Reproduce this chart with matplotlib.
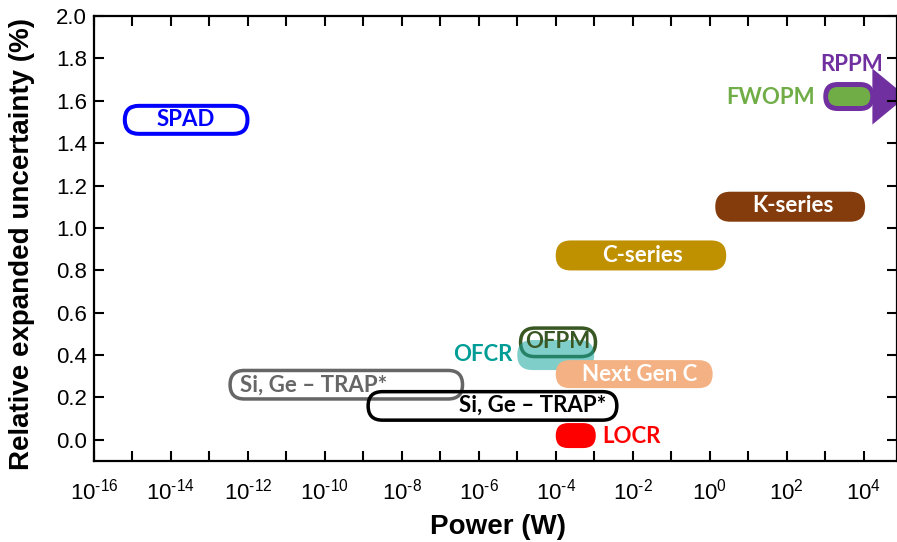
import numpy as np
import matplotlib
matplotlib.use('Agg')
import matplotlib.pyplot as plt
from matplotlib.patches import FancyBboxPatch, Polygon
from matplotlib.transforms import IdentityTransform

plt.rcParams['font.family'] = ['Liberation Sans', 'DejaVu Sans']
plt.rcParams['mathtext.fontset'] = 'custom'
plt.rcParams['mathtext.rm'] = 'Liberation Sans'
plt.rcParams['mathtext.it'] = 'Liberation Sans:italic'
plt.rcParams['mathtext.bf'] = 'Liberation Sans:bold'

# power range (W) and relative expanded uncertainty (%) of each technique
names = ['SPAD', 'Si, Ge – TRAP*', 'Si, Ge – TRAP*', 'OFPM', 'OFCR',
         'Next Gen C', 'LOCR', 'C-series', 'K-series', 'RPPM', 'FWOPM']
p_lo = [5.6e-16, 3.1e-13, 1.2e-9, 1.1e-5, 1.0e-5, 1.0e-4, 1.0e-4, 1.0e-4, 1.4, 9.0e2, 1.2e3]
p_hi = [1.1e-12, 4.2e-7, 4.3e-3, 1.2e-3, 1.0e-3, 1.2, 1.1e-3, 2.7, 1.1e4, 1.3e5, 1.5e4]
unc = [1.51, 0.26, 0.16, 0.46, 0.40, 0.31, 0.02, 0.87, 1.10, 1.62, 1.62]

x_exps = list(range(-16, 5))
y_ticks = np.arange(0, 2.01, 0.2)

# styles: (colour, kind, height px, border px, alpha)
styles = [
    ('#0000FF', 'outline', 32, 4, 1),
    ('#666666', 'outline', 32, 3.5, 1),
    ('#000000', 'outline', 32, 3.5, 1),
    ('#385723', 'outline', 32, 3.5, 1),
    ('#18A6A0', 'fill', 30, 0, 0.55),
    ('#F4B183', 'fill', 28, 0, 1),
    ('#FF0000', 'fill', 25, 0, 1),
    ('#BF9000', 'fill', 30, 0, 1),
    ('#843C0C', 'fill', 30, 0, 1),
    ('#7030A0', 'arrow', 29, 0, 1),
    ('#70AD47', 'fill', 19, 0, 1),
]
# label: (colour, where, dx px, dy px)
label_style = [
    ('#0000FF', 'center', 0, 0),
    ('#666666', 'left_in', 12, 0),
    ('#000000', 'right_in', -12, -1),
    ('#385723', 'center', 0, -1),
    ('#009C96', 'left_out', -5, -1),
    ('#FFFFFF', 'center', 5, 0),
    ('#FF0000', 'right_out', 6, 1),
    ('#FFFFFF', 'center', 2, 0),
    ('#FFFFFF', 'center', 3, -1),
    ('#7030A0', 'above', 28, -32),
    ('#70AD47', 'left_out', -13, 1),
]

fig = plt.figure(figsize=(8.97, 5.42), dpi=100)
ax = fig.add_axes([94 / 897, 1 - 461 / 542, 803 / 897, 445 / 542])
ax.set_xscale('log')
ax.set_xlim(1e-16, 10 ** 4.87)
ax.set_ylim(-0.1, 2.0)

ax.set_xticks([10.0 ** k for k in x_exps])
ax.set_xticklabels([r'$10^{\text{%d}}$' % k if k % 2 == 0 else '' for k in x_exps])
ax.xaxis.set_minor_locator(matplotlib.ticker.NullLocator())
ax.set_yticks(y_ticks)
ax.set_yticklabels(['%.1f' % v for v in y_ticks])
ax.tick_params(which='both', direction='in', top=True, right=True, length=7, width=1.5,
               labelsize=16)
ax.tick_params(axis='x', pad=13)
ax.tick_params(axis='y', pad=5)
for s in ax.spines.values():
    s.set_linewidth(1.6)

ax.set_xlabel('Power (W)', fontsize=20, fontweight='bold')
ax.set_ylabel('Relative expanded uncertainty (%)', fontsize=20, fontweight='bold')
ax.xaxis.set_label_coords(0.5035, -0.148)
ax.xaxis.label.set_va('center')
ax.yaxis.set_label_coords(-0.0897, 0.487)
ax.yaxis.label.set_va('center')

ident = IdentityTransform()


def pill(x0, x1, yc, h, **kw):
    p = FancyBboxPatch((x0, yc - h / 2), x1 - x0, h,
                       boxstyle='round,pad=0,rounding_size=%f' % (h / 2),
                       transform=ident, **kw)
    ax.add_patch(p)


boxes = []
for lo, hi, u, (c, kind, h, b, a) in zip(p_lo, p_hi, unc, styles):
    x0, yc = ax.transData.transform((lo, u))
    x1, _ = ax.transData.transform((hi, u))
    boxes.append((x0, x1, yc, h))
    if kind == 'outline':
        pill(x0 + b / 2, x1 - b / 2, yc, h - b, facecolor='none', edgecolor=c,
             linewidth=b * 0.72)
    elif kind == 'fill':
        pill(x0, x1, yc, h, facecolor=c, edgecolor='none', alpha=a)
    else:
        head_len, head_w = 30, 56
        pill(x0, x1 - head_len - 2, yc, h, facecolor=c, edgecolor='none')
        head = Polygon([(x1 - head_len - 4, yc + head_w / 2), (x1, yc),
                        (x1 - head_len - 4, yc - head_w / 2)],
                       closed=True, transform=ident, facecolor=c, edgecolor='none')
        ax.add_patch(head)

inv = ax.transData.inverted()
for name, (x0, x1, yc, h), (c, where, dx, dy) in zip(names, boxes, label_style):
    if where == 'center':
        px, ha = (x0 + x1) / 2, 'center'
    elif where == 'left_in':
        px, ha = x0, 'left'
    elif where == 'right_in':
        px, ha = x1, 'right'
    elif where == 'left_out':
        px, ha = x0, 'right'
    elif where == 'right_out':
        px, ha = x1, 'left'
    else:
        px, ha = x0, 'center'
    tx, ty = inv.transform((px + dx, yc - dy))
    ax.text(tx, ty, name, color=c, ha=ha, va='center', fontsize=16,
            fontweight='bold', family=['Lato', 'DejaVu Sans'], zorder=5)

fig.savefig('out.png', dpi=100)
